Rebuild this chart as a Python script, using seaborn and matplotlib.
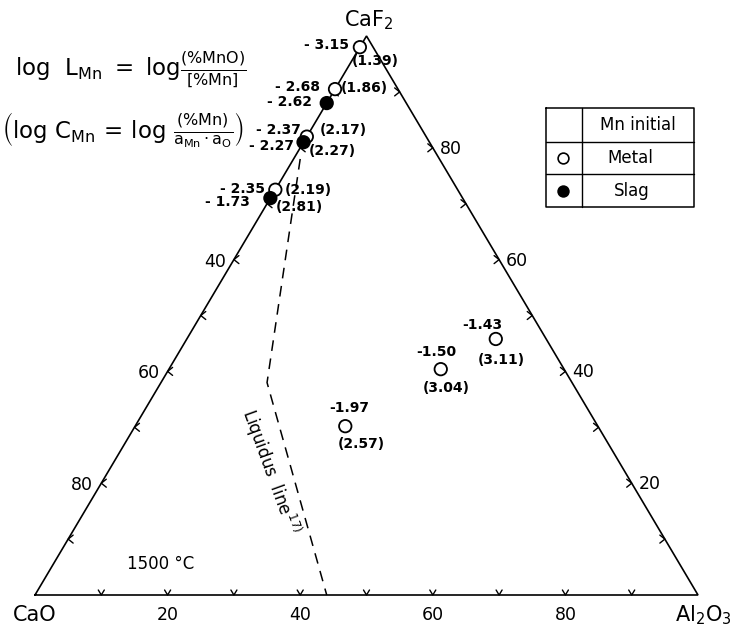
import numpy as np
import pandas as pd
import matplotlib
matplotlib.use("Agg")
import matplotlib.pyplot as plt
import seaborn as sns

# ---------------- data (compositions in wt%) ----------------
pt_caf2 = [98.0, 90.5, 88.0, 82.0, 81.0, 72.5, 71.0, 45.8, 40.4, 30.2]
pt_al2o3 = [0.0, 0.0, 0.0, 0.0, 0.0, 0.0, 0.0, 46.6, 41.0, 31.7]
pt_type = ["Metal", "Metal", "Slag", "Metal", "Slag", "Metal", "Slag",
           "Metal", "Metal", "Metal"]
log_L = ["- 3.15", "- 2.68", "- 2.62", "- 2.37", "- 2.27", "- 2.35", "- 1.73",
         "-1.43", "-1.50", "-1.97"]
log_C = ["(1.39)", "(1.86)", "", "(2.17)", "(2.27)", "(2.19)", "(2.81)",
         "(3.11)", "(3.04)", "(2.57)"]

liq_al2o3 = [1.0, 16.0, 44.0]
liq_caf2 = [78.0, 38.0, 0.0]

edge_ticks = [10, 20, 30, 40, 50, 60, 70, 80, 90]
bottom_labels = [20, 40, 60, 80]      # Al2O3 %
left_labels = [40, 60, 80]            # CaO %
right_labels = [80, 60, 40, 20]       # CaF2 %

# ---------------- layout ----------------
W, H = 732, 630
X0, XS = 35.0, 6.63   # pixel x of CaO corner, px per %
Y0, YS = 595.0, 5.59  # pixel y of base, px per %

sns.set_theme(style="white")
plt.rcParams["font.family"] = ["DejaVu Sans"]
plt.rcParams["mathtext.fontset"] = "dejavusans"
plt.rcParams["text.color"] = "black"

fig = plt.figure(figsize=(W / 100, H / 100), dpi=100)
ax = fig.add_axes([0, 0, 1, 1])
ax.set_xlim(-X0 / XS, (W - X0) / XS)
ax.set_ylim((Y0 - H) / YS, Y0 / YS)
ax.axis("off")


def tern(al, caf2):
    al = np.asarray(al, dtype=float)
    caf2 = np.asarray(caf2, dtype=float)
    return al + caf2 / 2.0, caf2


def F(px, py):
    return px / W, 1 - py / H


lw = 1.2
# triangle frame
cx, cy = tern([0, 100, 0, 0], [0, 0, 100, 0])
ax.plot(cx, cy, color="black", lw=lw, solid_joinstyle="miter")


def chevron(x, y, a, b):
    xs = [x + a[0] / XS, x, x + b[0] / XS]
    ys = [y - a[1] / YS, y, y - b[1] / YS]
    ax.plot(xs, ys, color="black", lw=1.0)


for t in edge_ticks:
    x, y = tern(t, 0)
    chevron(x, y, (-3, -5), (3, -5))
    x, y = tern(0, 100 - t)
    chevron(x, y, (5, -4), (5, 4))
    x, y = tern(100 - t, t)
    chevron(x, y, (-5, -4), (-5, 4))

# tick labels
for v in bottom_labels:
    x, y = tern(v, 0)
    ax.annotate(str(v), (x, y), xytext=(0, -20), textcoords="offset pixels",
                ha="center", va="center", fontsize=12.5, color="black")
for v in left_labels:
    x, y = tern(0, 100 - v)
    ax.annotate(str(v), (x, y), xytext=(-8, -2), textcoords="offset pixels",
                ha="right", va="center", fontsize=12.5, color="black")
for v in right_labels:
    x, y = tern(100 - v, v)
    ax.annotate(str(v), (x, y), xytext=(7, -1), textcoords="offset pixels",
                ha="left", va="center", fontsize=12.5, color="black")

# corner labels
x, y = tern(0, 0)
ax.annotate("CaO", (x, y), xytext=(0, -20), textcoords="offset pixels",
            ha="center", va="center", fontsize=15, color="black")
x, y = tern(100, 0)
ax.annotate(r"Al$_2$O$_3$", (x, y), xytext=(5, -20), textcoords="offset pixels",
            ha="center", va="center", fontsize=15, color="black")
x, y = tern(0, 100)
ax.annotate(r"CaF$_2$", (x, y), xytext=(2, 16), textcoords="offset pixels",
            ha="center", va="center", fontsize=15, color="black")

# liquidus line
lx, ly = tern(liq_al2o3, liq_caf2)
ax.plot(lx, ly, color="black", lw=1.1, linestyle=(0, (7, 5)))
ax.text(*F(270, 472), r"Liquidus  line$^{\,17)}$", transform=fig.transFigure,
        rotation=-70, ha="center", va="center", fontsize=12, color="black")

# data points
px_, py_ = tern(pt_al2o3, pt_caf2)
df = pd.DataFrame({"x": px_, "y": py_, "type": pt_type})
sns.scatterplot(data=df, x="x", y="y", hue="type",
                palette={"Metal": "white", "Slag": "black"},
                edgecolor="black", linewidth=1.3, s=80, legend=False,
                ax=ax, zorder=5)
ax.set_xlabel("")
ax.set_ylabel("")

# label offsets in pixels (dx right, dy down)
L_off = [(-11, -2), (-15, -2), (-15, -1), (-6, -7), (-10, 4), (-10, -1), (-20, 4),
         (-13, -14), (-4, -17), (4, -18)]
C_off = [(-8, 14), (6, -1), (0, 0), (13, -7), (5, 9), (9, 0), (5, 9),
         (6, 21), (5, 19), (16, 18)]
for i in range(len(pt_caf2)):
    interior = pt_al2o3[i] > 5
    dx, dy = L_off[i]
    ax.annotate(log_L[i], (px_[i], py_[i]), xytext=(dx, -dy),
                textcoords="offset pixels", ha="center" if interior else "right",
                va="center", fontsize=10, fontweight="bold", color="black")
    if log_C[i]:
        dx, dy = C_off[i]
        ax.annotate(log_C[i], (px_[i], py_[i]), xytext=(dx, -dy),
                    textcoords="offset pixels",
                    ha="center" if interior else "left",
                    va="center", fontsize=10, fontweight="bold", color="black")

# formulas
fig.text(*F(15, 70),
         r"$\mathrm{log\ \ L_{Mn}\ =\ log}\frac{(\%\mathrm{MnO})}{[\%\mathrm{Mn}]}$",
         ha="left", va="center", fontsize=16.5)
fig.text(*F(2, 130),
         r"$\left(\mathrm{log\ C_{Mn}\,=\,log}\ \frac{(\%\mathrm{Mn})}{\mathrm{a_{Mn}\cdot a_{O}}}\right)$",
         ha="left", va="center", fontsize=16.5)

# temperature
fig.text(*F(161, 564), "1500 °C", ha="center", va="center", fontsize=12)

# legend table
tl, tr, tt, tb = 546, 694, 108, 207
rows = [142, 174]
colx = 582
ax.plot(*zip(F(tl, tt), F(tr, tt), F(tr, tb), F(tl, tb), F(tl, tt)),
        transform=fig.transFigure, color="black", lw=1.1)
for r in rows:
    ax.plot(*zip(F(tl, r), F(tr, r)), transform=fig.transFigure, color="black", lw=1.0)
ax.plot(*zip(F(colx, tt), F(colx, tb)), transform=fig.transFigure, color="black", lw=1.0)
fig.text(*F(638, 125), "Mn initial", ha="center", va="center", fontsize=12)
fig.text(*F(630, 158), "Metal", ha="center", va="center", fontsize=12)
fig.text(*F(632, 191), "Slag", ha="center", va="center", fontsize=12)
ax.scatter(*F(563, 158), transform=fig.transFigure, s=60, facecolor="white",
           edgecolor="black", linewidth=1.2, zorder=6)
ax.scatter(*F(563, 191), transform=fig.transFigure, s=60, facecolor="black",
           edgecolor="black", linewidth=1.2, zorder=6)

fig.savefig("out.png", dpi=100, facecolor="white")
